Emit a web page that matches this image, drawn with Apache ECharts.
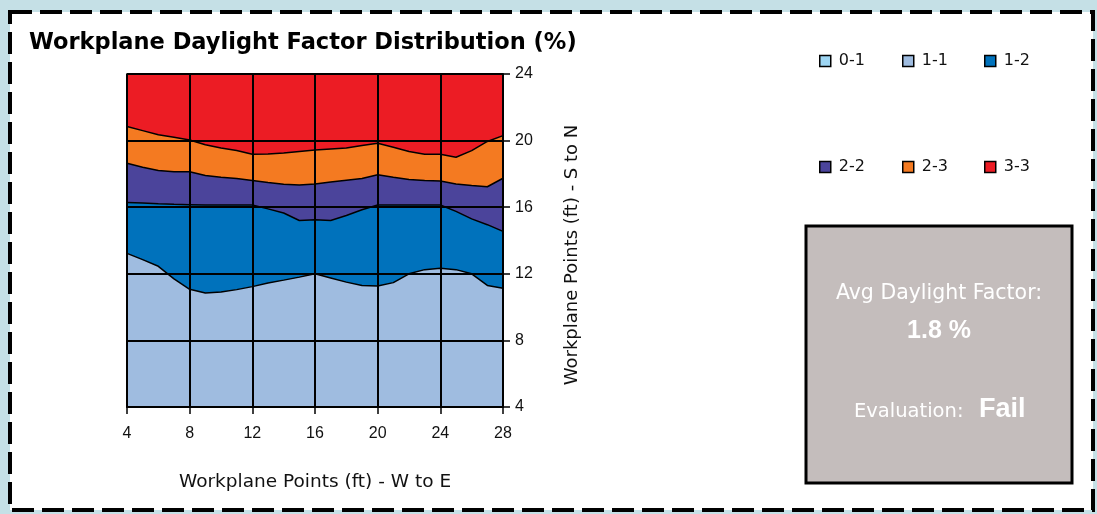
<!DOCTYPE html>
<html>
<head>
<meta charset="utf-8">
<script src="https://cdn.jsdelivr.net/npm/echarts@6/dist/echarts.min.js"></script>
<style>
html,body{margin:0;padding:0;background:#c5e0e6;}
#chart{width:1097px;height:514px;}
</style>
</head>
<body>
<div id="chart"></div>
<script>
// Workplane points W to E (ft)
const xPoints = [4,5,6,7,8,9,10,11,12,13,14,15,16,17,18,19,20,21,22,23,24,25,26,27,28];
// Upper boundary (ft, S to N) of each daylight-factor band
const top11 = [13.23,12.85,12.45,11.7,11.07,10.85,10.9,11.05,11.23,11.45,11.62,11.8,12.0,11.75,11.5,11.3,11.27,11.47,12.0,12.25,12.33,12.25,12.0,11.3,11.13];
const top12 = [16.28,16.25,16.2,16.17,16.15,16.13,16.13,16.13,16.13,15.9,15.65,15.2,15.25,15.2,15.5,15.85,16.13,16.13,16.13,16.13,16.13,15.75,15.3,14.95,14.55];
const top22 = [18.64,18.4,18.2,18.13,18.13,17.9,17.8,17.72,17.6,17.48,17.38,17.33,17.4,17.52,17.62,17.72,17.95,17.8,17.66,17.6,17.58,17.4,17.3,17.23,17.74];
const top23 = [20.85,20.6,20.35,20.2,20.04,19.75,19.55,19.4,19.18,19.2,19.25,19.35,19.44,19.5,19.55,19.7,19.84,19.6,19.35,19.18,19.18,19.0,19.4,19.95,20.3];
const top33 = [24,24,24,24,24,24,24,24,24,24,24,24,24,24,24,24,24,24,24,24,24,24,24,24,24];
const top01 = [];

const bandNames = ['0-1','1-1','1-2','2-2','2-3','3-3'];
const bandColors = ['#9ed6f3','#9fbce0','#0072bc','#4b449b','#f47a21','#ec1c24'];
const xTicks = [4,8,12,16,20,24,28];
const yTicks = [4,8,12,16,20,24];
const avgDF = '1.8 %';
const evaluation = 'Fail';

const bandTops = {'0-1':top01,'1-1':top11,'1-2':top12,'2-2':top22,'2-3':top23,'3-3':top33};
const drawOrder = ['3-3','2-3','2-2','1-2','1-1','0-1'];

const series = drawOrder.map(name => {
  const idx = bandNames.indexOf(name);
  return {
    name: name,
    type: 'line',
    data: bandTops[name].map((v,i) => [xPoints[i], v]),
    showSymbol: false,
    symbol: 'rect',
    smooth: false,
    z: 2,
    color: bandColors[idx],
    itemStyle: {color: bandColors[idx], borderColor: '#000', borderWidth: 1},
    lineStyle: {color: '#000', width: 1.5},
    areaStyle: {color: bandColors[idx], opacity: 1, origin: 'start'},
    emphasis: {disabled: true},
    animation: false
  };
});

const legendPos = [[819,53],[902,53],[984,53],[819,159],[902,159],[984,159]];
const legends = bandNames.map((n,i) => ({
  data: [n],
  left: legendPos[i][0],
  top: legendPos[i][1],
  padding: 0,
  orient: 'horizontal',
  icon: 'rect',
  itemWidth: 11,
  itemHeight: 11,
  itemGap: 5,
  selectedMode: false,
  itemStyle: {borderColor: '#000', borderWidth: 1.5},
  textStyle: {fontFamily: 'DejaVu Sans', fontSize: 16, color: '#111', padding: [0,0,0,3]}
}));

const chart = echarts.init(document.getElementById('chart'), null, {renderer: 'canvas'});
chart.setOption({
  animation: false,
  backgroundColor: 'transparent',
  title: {
    text: 'Workplane Daylight Factor Distribution (%)',
    left: 29, top: 32, padding: 0,
    textStyle: {fontFamily: 'DejaVu Sans', fontWeight: 'bold', fontSize: 22.5, color: '#000'}
  },
  legend: legends,
  grid: {left: 127, right: 594, top: 74, bottom: 107, show: true, borderColor: '#000', borderWidth: 1.5, backgroundColor: 'transparent'},
  xAxis: {
    type: 'value', min: 4, max: 28, interval: 4, z: 5,
    name: 'Workplane Points (ft) - W to E', nameLocation: 'middle', nameGap: 66,
    nameTextStyle: {fontFamily: 'DejaVu Sans', fontSize: 18.5, color: '#111'},
    axisLine: {show: true, onZero: false, lineStyle: {color: '#000', width: 2}},
    axisTick: {show: true, length: 7, lineStyle: {color: '#000', width: 1.5}},
    axisLabel: {fontFamily: 'Liberation Sans', fontSize: 16, color: '#111', margin: 19,
      formatter: v => xTicks.includes(v) ? String(v) : ''},
    splitLine: {show: true, lineStyle: {color: '#000', width: 2}}
  },
  yAxis: {
    type: 'value', min: 4, max: 24, interval: 4, position: 'right', z: 5,
    axisLine: {show: true, onZero: false, lineStyle: {color: '#000', width: 1.5}},
    axisTick: {show: true, length: 7, lineStyle: {color: '#000', width: 1.5}},
    axisLabel: {fontFamily: 'Liberation Sans', fontSize: 16, color: '#111', margin: 12,
      formatter: v => yTicks.includes(v) ? String(v) : ''},
    splitLine: {show: true, lineStyle: {color: '#000', width: 2}}
  },
  series: series,
  graphic: [
    {type: 'rect', z: -10, shape: {x: 0, y: 0, width: 1097, height: 514}, style: {fill: '#c5e0e6'}, silent: true},
    {type: 'rect', z: -9, shape: {x: 10, y: 12, width: 1083, height: 498}, style: {fill: '#ffffff', stroke: '#000', lineWidth: 4, lineDash: [22, 8]}, silent: true},
    {type: 'text', z: 11, x: 572, y: 255, rotation: Math.PI / 2, style: {text: 'Workplane Points (ft) - S to N', fill: '#111', font: '18px "DejaVu Sans"', align: 'center', verticalAlign: 'middle'}, silent: true},
    {type: 'rect', z: 10, shape: {x: 806, y: 226, width: 266, height: 257}, style: {fill: '#c4bdbc', stroke: '#000', lineWidth: 3}, silent: true},
    {type: 'text', z: 11, x: 939, y: 294, style: {text: 'Avg Daylight Factor:', fill: '#fff', font: '20.5px "DejaVu Sans"', align: 'center', verticalAlign: 'middle'}, silent: true},
    {type: 'text', z: 11, x: 939, y: 331, style: {text: avgDF, fill: '#fff', font: 'bold 25px "Liberation Sans"', align: 'center', verticalAlign: 'middle'}, silent: true},
    {type: 'text', z: 11, x: 854, y: 412, style: {text: 'Evaluation:', fill: '#fff', font: '19.5px "DejaVu Sans"', align: 'left', verticalAlign: 'middle'}, silent: true},
    {type: 'text', z: 11, x: 979, y: 410, style: {text: evaluation, fill: '#fff', font: 'bold 27px "Liberation Sans"', align: 'left', verticalAlign: 'middle'}, silent: true}
  ]
});
</script>
</body>
</html>
